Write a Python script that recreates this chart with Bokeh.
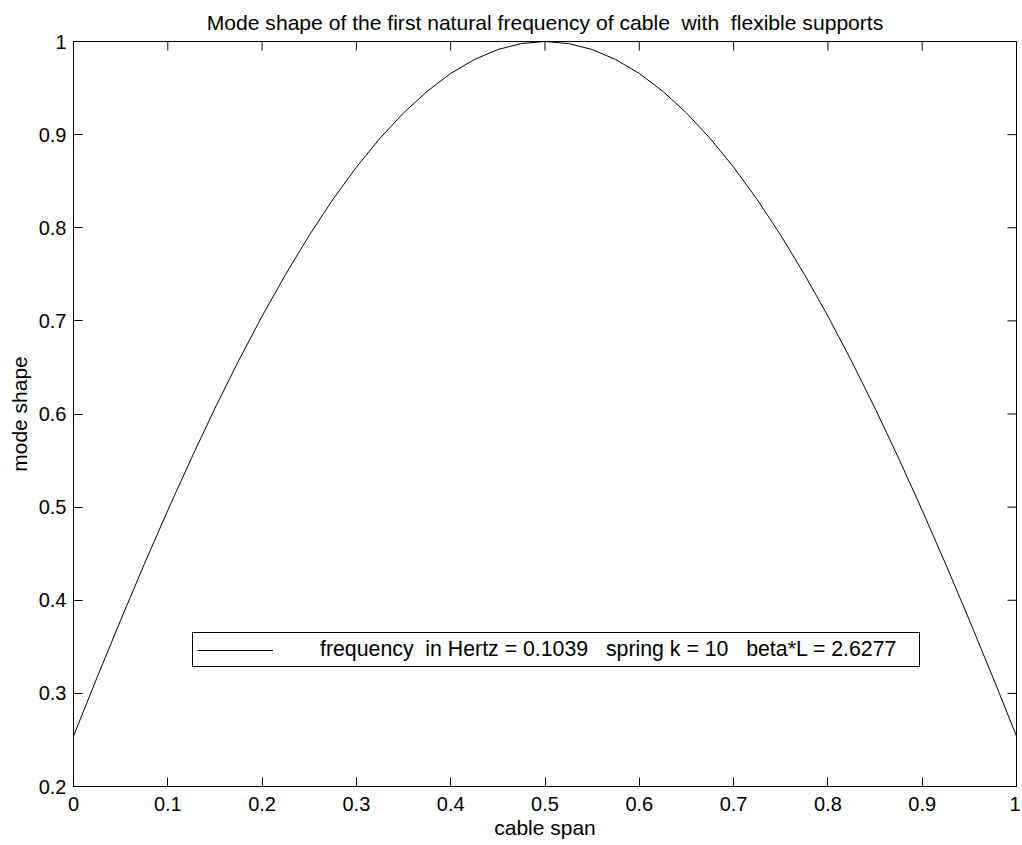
import math
from bokeh.plotting import figure
from bokeh.models import Range1d, Legend, LegendItem, FixedTicker
from bokeh.embed import file_html
from bokeh.resources import INLINE

# ---- data ----
span = [0.0, 0.025, 0.05, 0.075, 0.1, 0.125, 0.15, 0.175, 0.2, 0.225, 0.25,
        0.275, 0.3, 0.325, 0.35, 0.375, 0.4, 0.425, 0.45, 0.475, 0.5,
        0.525, 0.55, 0.575, 0.6, 0.625, 0.65, 0.675, 0.7, 0.725, 0.75,
        0.775, 0.8, 0.825, 0.85, 0.875, 0.9, 0.925, 0.95, 0.975, 1.0]
mode_shape = [0.2541, 0.3171, 0.3786, 0.4386, 0.4966, 0.5525, 0.6061, 0.6570,
              0.7051, 0.7501, 0.7919, 0.8303, 0.8651, 0.8961, 0.9233, 0.9465,
              0.9657, 0.9806, 0.9914, 0.9978, 1.0,
              0.9978, 0.9914, 0.9806, 0.9657, 0.9465, 0.9233, 0.8961, 0.8651,
              0.8303, 0.7919, 0.7501, 0.7051, 0.6570, 0.6061, 0.5525, 0.4966,
              0.4386, 0.3786, 0.3171, 0.2541]
x_ticks = [0.0, 0.1, 0.2, 0.3, 0.4, 0.5, 0.6, 0.7, 0.8, 0.9, 1.0]
x_tick_labels = ["0", "0.1", "0.2", "0.3", "0.4", "0.5", "0.6", "0.7", "0.8", "0.9", "1"]
y_ticks = [0.2, 0.3, 0.4, 0.5, 0.6, 0.7, 0.8, 0.9, 1.0]
y_tick_labels = ["0.2", "0.3", "0.4", "0.5", "0.6", "0.7", "0.8", "0.9", "1"]
x_min, x_max = 0.0, 1.0
y_min, y_max = 0.2, 1.0

title_text = "Mode shape of the first natural frequency of cable\u00a0 with\u00a0 flexible supports"
legend_text = "frequency\u00a0 in Hertz = 0.1039 \u00a0 spring k = 10 \u00a0 beta*L = 2.6277"
x_label = "cable span"
y_label = "mode shape"

FONT = "Liberation Sans"

p = figure(width=1020, height=844, output_backend="svg", toolbar_location=None,
           x_range=Range1d(x_min, x_max), y_range=Range1d(y_min, y_max),
           min_border_left=73, min_border_right=4, min_border_top=41, min_border_bottom=58,
           background_fill_color="white", border_fill_color="white")

p.title.text = title_text
p.title.text_font = FONT
p.title.text_font_size = "21.1px"
p.title.text_font_style = "normal"
p.title.text_color = "black"
p.title.align = "center"
p.title.standoff = 16

p.xgrid.visible = False
p.ygrid.visible = False
p.outline_line_color = "black"
p.outline_line_width = 1
p.outline_line_alpha = 1

def style_axis(ax, ticks, labels):
    ax.ticker = FixedTicker(ticks=ticks)
    ax.major_label_overrides = {t: l for t, l in zip(ticks, labels)}
    ax.minor_tick_line_color = None
    ax.major_tick_in = 9
    ax.major_tick_out = 0
    ax.major_tick_line_color = "black"
    ax.major_tick_line_width = 1
    ax.axis_line_color = "black"
    ax.axis_line_width = 1
    ax.major_label_text_font = FONT
    ax.major_label_text_color = "black"
    ax.major_label_text_font_size = "20px"

style_axis(p.xaxis[0], x_ticks, x_tick_labels)
style_axis(p.yaxis[0], y_ticks, y_tick_labels)
p.xaxis[0].major_label_standoff = 10
p.yaxis[0].major_label_standoff = 7
for ax, lab in ((p.xaxis[0], x_label), (p.yaxis[0], y_label)):
    ax.axis_label = lab
    ax.axis_label_text_font = FONT
    ax.axis_label_text_font_size = "21px"
    ax.axis_label_text_font_style = "normal"
    ax.axis_label_text_color = "black"
p.xaxis[0].axis_label_standoff = 2
p.yaxis[0].axis_label_standoff = 5

# inward ticks on the top and right edges of the box (half of each dash is clipped by the frame)
p.scatter(x=x_ticks, y=[y_max] * len(x_ticks), marker="dash", size=18, angle=math.pi / 2,
          line_color="black", line_width=1)
p.scatter(x=[x_max] * len(y_ticks), y=y_ticks, marker="dash", size=18,
          line_color="black", line_width=1)

r = p.line(span, mode_shape, line_color="black", line_width=1)

legend = Legend(items=[LegendItem(label=legend_text, renderers=[r])],
                location=(119, 119), margin=0, padding=4,
                glyph_width=76, glyph_height=24, label_height=24,
                label_width=595, label_standoff=47,
                label_text_font=FONT, label_text_font_size="21.3px",
                label_text_color="black",
                border_line_color="black", border_line_width=1, border_line_alpha=1,
                background_fill_color="white", background_fill_alpha=1)
p.add_layout(legend)

open("out.html", "w").write(file_html(p, INLINE))
